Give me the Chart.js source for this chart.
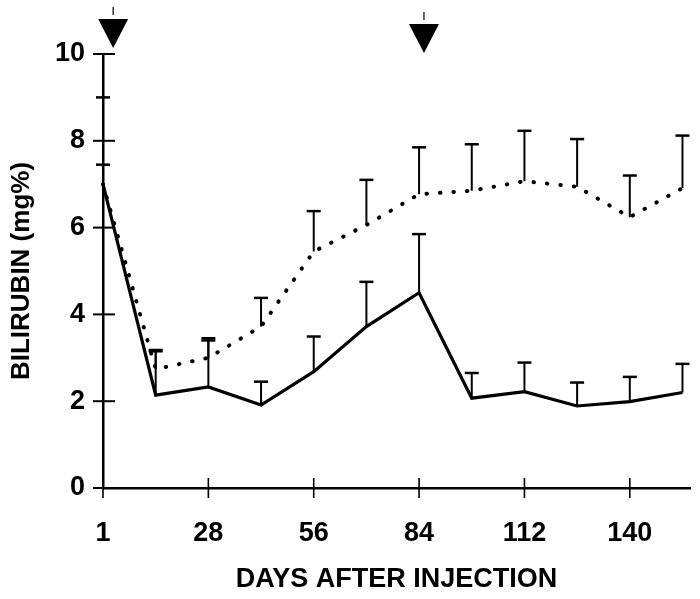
<!DOCTYPE html>
<html><head><meta charset="utf-8">
<script src="https://cdn.jsdelivr.net/npm/chart.js@4.4.1/dist/chart.umd.min.js"></script>
<style>html,body{margin:0;padding:0;background:#fff;}</style>
</head><body>
<canvas id="c" width="700" height="599"></canvas>
<script>
const days = [0, 14, 28, 42, 56, 70, 84, 98, 112, 126, 140, 154];
const tickDays = [0, 28, 56, 84, 112, 140];
const tickLabels = ['1', '28', '56', '84', '112', '140'];
const solidMean  = [7.0, 2.14, 2.33, 1.91, 2.68, 3.72, 4.50, 2.07, 2.22, 1.89, 1.99, 2.20];
const solidUpper = [7.45, 3.18, 3.45, 2.45, 3.49, 4.75, 5.85, 2.65, 2.89, 2.43, 2.56, 2.86];
const dottedMean  = [7.0, 2.74, 3.00, 3.72, 5.45, 6.06, 6.77, 6.85, 7.07, 6.94, 6.24, 6.91];
const dottedUpper = [9.0, 3.15, 3.40, 4.38, 6.38, 7.10, 7.85, 7.92, 8.23, 8.04, 7.20, 8.12];
const injectionDays = [2.7, 85.3];

const FONT = "'Liberation Sans', Arial, sans-serif";

const errorBars = {
  id: 'errorBars',
  afterDatasetsDraw(chart) {
    const ctx = chart.ctx, x = chart.scales.x, y = chart.scales.y;
    ctx.save();
    ctx.strokeStyle = '#000';
    ctx.lineCap = 'butt';
    [[solidMean, solidUpper], [dottedMean, dottedUpper]].forEach(([m, u]) => {
      days.forEach((d, i) => {
        const px = x.getPixelForValue(d);
        const y0 = y.getPixelForValue(m[i]);
        const y1 = y.getPixelForValue(u[i]);
        ctx.lineWidth = 2;
        ctx.beginPath(); ctx.moveTo(px, y0); ctx.lineTo(px, y1); ctx.stroke();
        ctx.lineWidth = 2.5;
        ctx.beginPath(); ctx.moveTo(px - 7, y1); ctx.lineTo(px + 7, y1); ctx.stroke();
      });
    });
    ctx.restore();
  }
};

const axisTicks = {
  id: 'axisTicks',
  afterDraw(chart) {
    const ctx = chart.ctx, x = chart.scales.x, y = chart.scales.y, a = chart.chartArea;
    ctx.save();
    ctx.strokeStyle = '#000';
    ctx.lineWidth = 2;
    y.ticks.forEach(t => {
      const py = y.getPixelForValue(t.value);
      ctx.beginPath(); ctx.moveTo(a.left - 10, py); ctx.lineTo(a.left + 12, py); ctx.stroke();
    });
    ctx.lineWidth = 1.6;
    tickDays.forEach(d => {
      const px = x.getPixelForValue(d);
      ctx.beginPath(); ctx.moveTo(px, a.bottom - 10); ctx.lineTo(px, a.bottom + 10); ctx.stroke();
    });
    // injection arrows
    const tipOffsets = [6, 1];
    injectionDays.forEach((d, i) => {
      const px = x.getPixelForValue(d);
      const tip = a.top - tipOffsets[i];
      ctx.fillStyle = '#000';
      ctx.beginPath();
      ctx.moveTo(px, tip);
      ctx.lineTo(px - 15, tip - 29);
      ctx.lineTo(px + 15, tip - 29);
      ctx.closePath();
      ctx.fill();
      ctx.lineWidth = 1.2;
      ctx.beginPath(); ctx.moveTo(px, tip - 33); ctx.lineTo(px, tip - 41); ctx.stroke();
    });
    ctx.restore();
  }
};

new Chart(document.getElementById('c'), {
  type: 'line',
  data: {
    datasets: [
      {
        label: 'solid',
        data: days.map((d, i) => ({x: d, y: solidMean[i]})),
        borderColor: '#000', borderWidth: 3.2, pointRadius: 0, tension: 0,
        borderJoinStyle: 'miter', clip: false
      },
      {
        label: 'dotted',
        data: days.map((d, i) => ({x: d, y: dottedMean[i]})),
        borderColor: '#000', borderWidth: 4, pointRadius: 0, tension: 0,
        borderDash: [0.5, 13], borderCapStyle: 'round', clip: false
      }
    ]
  },
  options: {
    responsive: false,
    animation: false,
    devicePixelRatio: 1,
    layout: { padding: { top: 54, right: 10, left: 0, bottom: 0 } },
    plugins: { legend: { display: false }, tooltip: { enabled: false } },
    scales: {
      x: {
        type: 'linear', min: 0, max: 156,
        afterFit(s) { s.height = 111; },
        afterBuildTicks(s) { s.ticks = tickDays.map(v => ({ value: v })); },
        grid: { display: true, drawOnChartArea: false, drawTicks: false },
        border: { display: true, color: '#000', width: 2.5 },
        ticks: {
          autoSkip: false, maxRotation: 0, padding: 29, color: '#000',
          font: { family: FONT, size: 27, weight: 'bold' },
          callback(v) { const i = tickDays.indexOf(v); return i >= 0 ? tickLabels[i] : null; }
        },
        title: {
          display: true, text: 'DAYS AFTER INJECTION', color: '#000',
          font: { family: FONT, size: 27, weight: 'bold' },
          padding: { top: 0, bottom: 3 }
        }
      },
      y: {
        min: 0, max: 10,
        afterFit(s) { s.width = 103; },
        grid: { display: true, drawOnChartArea: false, drawTicks: false },
        border: { display: true, color: '#000', width: 2.5 },
        ticks: {
          stepSize: 2, padding: 18, color: '#000',
          font: { family: FONT, size: 27, weight: 'bold' }
        },
        title: {
          display: true, text: 'BILIRUBIN (mg%)', color: '#000',
          font: { family: FONT, size: 26, weight: 'bold' },
          padding: { top: 6, bottom: 0 }
        }
      }
    }
  },
  plugins: [errorBars, axisTicks]
});
</script>
</body></html>
